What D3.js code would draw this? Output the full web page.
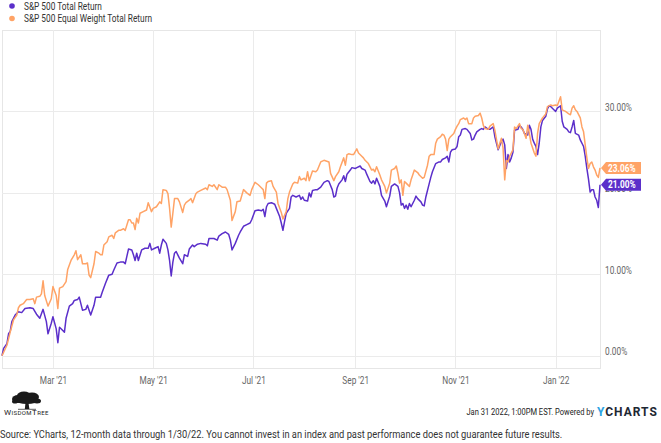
<!DOCTYPE html>
<html>
<head>
<meta charset="utf-8">
<script src="https://cdn.jsdelivr.net/npm/d3@7"></script>
<style>
  html, body { margin: 0; padding: 0; background: #fff; }
  svg { display: block; }
  text { font-family: Roboto, "Liberation Sans", sans-serif; }
</style>
</head>
<body>
<svg id="chart"></svg>
<script>
'use strict';

const seriesNames = ['S&P 500 Total Return', 'S&P 500 Equal Weight Total Return'];
const seriesColors = ['#5b2fca', '#ffa366'];

// total return, %
const sp500 = [
    ['2021-01-29', 0.0], ['2021-01-30', 0.9], ['2021-02-01', 1.5], ['2021-02-02', 2.7], ['2021-02-03', 3.0],
    ['2021-02-04', 4.2], ['2021-02-06', 5.0], ['2021-02-08', 5.4], ['2021-02-10', 5.3], ['2021-02-12', 5.8],
    ['2021-02-15', 5.9], ['2021-02-17', 5.8], ['2021-02-19', 5.1], ['2021-02-21', 4.6], ['2021-02-23', 5.7],
    ['2021-02-25', 4.2], ['2021-02-26', 2.7], ['2021-02-28', 4.0], ['2021-03-01', 4.8], ['2021-03-03', 3.3],
    ['2021-03-04', 1.6], ['2021-03-05', 3.5], ['2021-03-07', 3.1], ['2021-03-08', 2.9], ['2021-03-09', 4.6],
    ['2021-03-11', 6.1], ['2021-03-13', 6.4], ['2021-03-14', 6.8], ['2021-03-16', 6.9], ['2021-03-17', 7.2],
    ['2021-03-19', 5.6], ['2021-03-21', 5.7], ['2021-03-22', 6.2], ['2021-03-23', 5.6], ['2021-03-24', 5.0],
    ['2021-03-26', 6.2], ['2021-03-27', 7.2], ['2021-03-29', 7.2], ['2021-03-30', 7.2], ['2021-03-31', 7.8],
    ['2021-04-02', 8.9], ['2021-04-04', 9.9], ['2021-04-06', 10.0], ['2021-04-07', 10.5], ['2021-04-09', 11.4],
    ['2021-04-11', 11.5], ['2021-04-13', 11.5], ['2021-04-14', 11.3], ['2021-04-15', 12.2], ['2021-04-16', 13.1],
    ['2021-04-18', 13.0], ['2021-04-19', 12.4], ['2021-04-20', 11.7], ['2021-04-21', 12.6], ['2021-04-22', 11.7],
    ['2021-04-24', 13.0], ['2021-04-26', 13.2], ['2021-04-28', 13.2], ['2021-04-29', 13.8], ['2021-04-30', 13.0],
    ['2021-05-02', 13.2], ['2021-05-04', 13.4], ['2021-05-05', 12.6], ['2021-05-06', 13.6], ['2021-05-07', 14.3],
    ['2021-05-09', 13.8], ['2021-05-10', 13.0], ['2021-05-11', 11.7], ['2021-05-12', 9.8], ['2021-05-13', 11.5],
    ['2021-05-14', 12.6], ['2021-05-15', 12.8], ['2021-05-16', 12.4], ['2021-05-17', 12.0], ['2021-05-19', 11.3],
    ['2021-05-20', 12.4], ['2021-05-22', 12.2], ['2021-05-23', 13.1], ['2021-05-25', 13.6], ['2021-05-26', 13.4],
    ['2021-05-28', 13.7], ['2021-05-30', 13.8], ['2021-06-02', 13.7], ['2021-06-03', 13.5], ['2021-06-04', 14.4],
    ['2021-06-07', 14.4], ['2021-06-09', 14.2], ['2021-06-10', 14.7], ['2021-06-12', 15.0], ['2021-06-14', 15.2],
    ['2021-06-16', 14.9], ['2021-06-17', 14.2], ['2021-06-18', 13.0], ['2021-06-20', 13.8], ['2021-06-22', 14.8],
    ['2021-06-23', 15.2], ['2021-06-25', 15.9], ['2021-06-27', 16.1], ['2021-06-29', 16.3], ['2021-06-30', 16.7],
    ['2021-07-02', 17.8], ['2021-07-04', 17.9], ['2021-07-06', 17.8], ['2021-07-07', 18.0], ['2021-07-08', 17.1],
    ['2021-07-09', 18.3], ['2021-07-10', 18.7], ['2021-07-12', 18.8], ['2021-07-14', 18.6], ['2021-07-15', 18.1],
    ['2021-07-17', 17.1], ['2021-07-18', 16.3], ['2021-07-19', 15.4], ['2021-07-20', 16.5], ['2021-07-21', 17.5],
    ['2021-07-23', 18.1], ['2021-07-24', 19.5], ['2021-07-25', 19.7], ['2021-07-27', 19.5], ['2021-07-29', 19.7],
    ['2021-07-30', 19.2], ['2021-07-31', 19.5], ['2021-08-01', 19.1], ['2021-08-03', 19.0], ['2021-08-04', 20.0],
    ['2021-08-05', 19.5], ['2021-08-06', 20.3], ['2021-08-08', 20.4], ['2021-08-09', 20.4], ['2021-08-11', 20.7],
    ['2021-08-13', 21.3], ['2021-08-15', 21.5], ['2021-08-16', 21.4], ['2021-08-18', 20.4], ['2021-08-19', 19.5],
    ['2021-08-20', 19.6], ['2021-08-21', 20.6], ['2021-08-22', 21.1], ['2021-08-24', 21.6], ['2021-08-25', 22.1],
    ['2021-08-26', 21.4], ['2021-08-27', 22.3], ['2021-08-29', 22.8], ['2021-08-30', 23.1], ['2021-09-01', 23.0],
    ['2021-09-02', 23.1], ['2021-09-04', 23.3], ['2021-09-05', 23.0], ['2021-09-07', 22.8], ['2021-09-08', 22.3],
    ['2021-09-10', 21.4], ['2021-09-11', 21.2], ['2021-09-12', 21.5], ['2021-09-13', 21.1], ['2021-09-14', 21.8],
    ['2021-09-16', 20.8], ['2021-09-17', 19.7], ['2021-09-19', 19.0], ['2021-09-20', 18.3], ['2021-09-22', 19.6],
    ['2021-09-23', 20.8], ['2021-09-25', 21.1], ['2021-09-27', 20.8], ['2021-09-28', 20.0], ['2021-09-29', 18.5],
    ['2021-09-30', 18.7], ['2021-10-01', 18.1], ['2021-10-02', 18.5], ['2021-10-03', 18.0], ['2021-10-04', 18.7],
    ['2021-10-05', 18.3], ['2021-10-07', 19.1], ['2021-10-08', 19.6], ['2021-10-09', 19.3], ['2021-10-11', 18.9],
    ['2021-10-12', 18.5], ['2021-10-13', 18.4], ['2021-10-14', 19.5], ['2021-10-16', 21.1], ['2021-10-17', 21.9],
    ['2021-10-18', 22.6], ['2021-10-20', 23.6], ['2021-10-22', 23.8], ['2021-10-23', 23.8], ['2021-10-24', 24.1],
    ['2021-10-26', 24.3], ['2021-10-27', 24.5], ['2021-10-28', 23.8], ['2021-10-29', 25.0], ['2021-10-30', 25.3],
    ['2021-11-01', 25.4], ['2021-11-02', 25.7], ['2021-11-03', 26.9], ['2021-11-04', 27.1], ['2021-11-05', 27.8],
    ['2021-11-07', 27.9], ['2021-11-08', 27.8], ['2021-11-10', 27.3], ['2021-11-11', 26.5], ['2021-11-12', 26.6],
    ['2021-11-13', 27.1], ['2021-11-14', 27.5], ['2021-11-16', 27.8], ['2021-11-17', 27.9], ['2021-11-18', 27.8],
    ['2021-11-19', 28.1], ['2021-11-21', 27.8], ['2021-11-22', 27.8], ['2021-11-24', 28.1], ['2021-11-25', 26.9],
    ['2021-11-27', 25.3], ['2021-11-29', 26.3], ['2021-11-30', 26.6], ['2021-12-01', 25.9], ['2021-12-02', 23.0],
    ['2021-12-03', 24.7], ['2021-12-04', 23.8], ['2021-12-05', 24.3], ['2021-12-06', 25.0], ['2021-12-07', 27.7],
    ['2021-12-09', 27.8], ['2021-12-10', 28.3], ['2021-12-11', 28.1], ['2021-12-12', 27.8], ['2021-12-13', 27.3],
    ['2021-12-15', 27.1], ['2021-12-16', 28.3], ['2021-12-17', 27.8], ['2021-12-18', 26.6], ['2021-12-19', 26.1],
    ['2021-12-20', 25.7], ['2021-12-21', 24.7], ['2021-12-22', 26.1], ['2021-12-23', 28.1], ['2021-12-24', 28.9],
    ['2021-12-26', 29.4], ['2021-12-27', 30.3], ['2021-12-28', 30.7], ['2021-12-29', 30.6], ['2021-12-30', 30.4],
    ['2022-01-01', 30.0], ['2022-01-02', 30.4], ['2022-01-04', 30.7], ['2022-01-05', 28.8], ['2022-01-06', 28.1],
    ['2022-01-08', 27.8], ['2022-01-09', 27.5], ['2022-01-10', 27.4], ['2022-01-11', 28.1], ['2022-01-12', 28.9],
    ['2022-01-13', 27.3], ['2022-01-15', 27.1], ['2022-01-16', 26.5], ['2022-01-18', 25.7], ['2022-01-19', 24.5],
    ['2022-01-20', 23.0], ['2022-01-21', 21.7], ['2022-01-22', 20.1], ['2022-01-23', 20.4], ['2022-01-24', 20.4],
    ['2022-01-25', 19.5], ['2022-01-26', 19.1], ['2022-01-27', 18.2], ['2022-01-28', 21.0]
];

const equalWeight = [
    ['2021-01-29', 0.0], ['2021-02-01', 1.3], ['2021-02-03', 2.9], ['2021-02-05', 4.4], ['2021-02-07', 5.0],
    ['2021-02-08', 5.9], ['2021-02-09', 6.2], ['2021-02-11', 6.4], ['2021-02-13', 6.9], ['2021-02-15', 6.9],
    ['2021-02-17', 7.0], ['2021-02-18', 6.4], ['2021-02-19', 7.2], ['2021-02-21', 7.3], ['2021-02-22', 7.6],
    ['2021-02-23', 9.2], ['2021-02-24', 7.4], ['2021-02-26', 6.1], ['2021-02-28', 7.0], ['2021-03-01', 8.5],
    ['2021-03-03', 7.4], ['2021-03-04', 5.8], ['2021-03-05', 8.3], ['2021-03-07', 8.5], ['2021-03-09', 9.1],
    ['2021-03-10', 10.6], ['2021-03-12', 11.7], ['2021-03-14', 12.4], ['2021-03-15', 12.9], ['2021-03-16', 11.8],
    ['2021-03-18', 12.4], ['2021-03-19', 11.3], ['2021-03-21', 11.3], ['2021-03-22', 11.4], ['2021-03-23', 9.9],
    ['2021-03-24', 9.6], ['2021-03-26', 11.3], ['2021-03-27', 12.8], ['2021-03-29', 12.6], ['2021-03-30', 12.4],
    ['2021-03-31', 12.4], ['2021-04-01', 13.6], ['2021-04-03', 14.0], ['2021-04-04', 14.6], ['2021-04-06', 14.8],
    ['2021-04-07', 14.4], ['2021-04-08', 15.1], ['2021-04-10', 15.4], ['2021-04-11', 15.4], ['2021-04-13', 15.6],
    ['2021-04-14', 15.4], ['2021-04-16', 16.7], ['2021-04-17', 16.7], ['2021-04-18', 16.3], ['2021-04-19', 16.3],
    ['2021-04-20', 15.5], ['2021-04-21', 16.9], ['2021-04-22', 16.3], ['2021-04-23', 17.5], ['2021-04-25', 17.7],
    ['2021-04-27', 17.9], ['2021-04-28', 18.8], ['2021-04-30', 17.7], ['2021-05-01', 18.1], ['2021-05-03', 18.3],
    ['2021-05-05', 18.9], ['2021-05-06', 18.7], ['2021-05-07', 20.4], ['2021-05-09', 20.3], ['2021-05-10', 19.9],
    ['2021-05-11', 18.1], ['2021-05-12', 15.8], ['2021-05-13', 17.5], ['2021-05-14', 19.3], ['2021-05-16', 19.3],
    ['2021-05-17', 18.9], ['2021-05-19', 17.6], ['2021-05-20', 18.5], ['2021-05-21', 18.8], ['2021-05-23', 19.1],
    ['2021-05-24', 19.3], ['2021-05-25', 18.8], ['2021-05-27', 19.9], ['2021-05-28', 20.1], ['2021-05-30', 20.3],
    ['2021-06-02', 20.6], ['2021-06-03', 20.4], ['2021-06-04', 21.0], ['2021-06-06', 20.8], ['2021-06-07', 21.0],
    ['2021-06-09', 20.4], ['2021-06-10', 21.0], ['2021-06-12', 20.7], ['2021-06-14', 20.7], ['2021-06-15', 20.4],
    ['2021-06-17', 19.1], ['2021-06-18', 16.6], ['2021-06-20', 17.7], ['2021-06-21', 18.9], ['2021-06-23', 19.0],
    ['2021-06-25', 20.4], ['2021-06-27', 20.0], ['2021-06-29', 19.7], ['2021-06-30', 20.4], ['2021-07-02', 21.3],
    ['2021-07-04', 21.0], ['2021-07-06', 20.6], ['2021-07-07', 20.4], ['2021-07-08', 19.3], ['2021-07-09', 21.2],
    ['2021-07-10', 21.4], ['2021-07-12', 21.5], ['2021-07-13', 20.8], ['2021-07-15', 20.1], ['2021-07-16', 18.7],
    ['2021-07-18', 17.6], ['2021-07-19', 16.8], ['2021-07-21', 17.7], ['2021-07-22', 19.3], ['2021-07-23', 20.1],
    ['2021-07-25', 21.1], ['2021-07-26', 21.3], ['2021-07-28', 21.2], ['2021-07-29', 22.0], ['2021-07-30', 21.6],
    ['2021-08-01', 21.8], ['2021-08-02', 21.5], ['2021-08-03', 22.6], ['2021-08-04', 21.5], ['2021-08-06', 22.7],
    ['2021-08-08', 22.6], ['2021-08-09', 22.8], ['2021-08-11', 23.8], ['2021-08-13', 24.0], ['2021-08-16', 23.8],
    ['2021-08-17', 22.4], ['2021-08-19', 21.5], ['2021-08-20', 22.0], ['2021-08-22', 22.6], ['2021-08-23', 23.2],
    ['2021-08-25', 24.3], ['2021-08-26', 23.4], ['2021-08-27', 24.7], ['2021-08-28', 24.8], ['2021-08-30', 24.7],
    ['2021-08-31', 24.7], ['2021-09-02', 25.4], ['2021-09-03', 24.9], ['2021-09-05', 24.5], ['2021-09-06', 24.3],
    ['2021-09-07', 24.0], ['2021-09-09', 23.6], ['2021-09-11', 22.8], ['2021-09-12', 22.9], ['2021-09-13', 22.6],
    ['2021-09-14', 23.2], ['2021-09-16', 22.2], ['2021-09-17', 21.6], ['2021-09-19', 20.8], ['2021-09-20', 20.0],
    ['2021-09-22', 21.2], ['2021-09-23', 22.8], ['2021-09-25', 23.0], ['2021-09-26', 23.3], ['2021-09-27', 22.4],
    ['2021-09-28', 21.2], ['2021-09-29', 21.6], ['2021-09-30', 19.7], ['2021-10-01', 21.4], ['2021-10-02', 21.2],
    ['2021-10-04', 20.8], ['2021-10-05', 21.6], ['2021-10-06', 22.2], ['2021-10-07', 22.8], ['2021-10-09', 22.5],
    ['2021-10-10', 22.2], ['2021-10-12', 21.8], ['2021-10-13', 21.9], ['2021-10-15', 23.4], ['2021-10-16', 24.5],
    ['2021-10-17', 24.7], ['2021-10-19', 24.7], ['2021-10-20', 26.1], ['2021-10-21', 26.6], ['2021-10-23', 26.9],
    ['2021-10-24', 27.2], ['2021-10-25', 27.1], ['2021-10-26', 26.6], ['2021-10-27', 25.2], ['2021-10-28', 26.6],
    ['2021-10-29', 26.9], ['2021-10-31', 27.3], ['2021-11-01', 27.8], ['2021-11-02', 28.2], ['2021-11-03', 28.5],
    ['2021-11-04', 29.0], ['2021-11-06', 29.2], ['2021-11-07', 29.0], ['2021-11-08', 29.2], ['2021-11-09', 28.5],
    ['2021-11-11', 28.5], ['2021-11-12', 29.2], ['2021-11-13', 29.4], ['2021-11-15', 29.5], ['2021-11-16', 29.8],
    ['2021-11-17', 29.2], ['2021-11-18', 28.3], ['2021-11-19', 27.9], ['2021-11-21', 27.8], ['2021-11-22', 28.2],
    ['2021-11-24', 28.5], ['2021-11-25', 27.7], ['2021-11-27', 25.4], ['2021-11-28', 26.1], ['2021-11-29', 26.7],
    ['2021-11-30', 25.5], ['2021-12-01', 21.6], ['2021-12-02', 24.0], ['2021-12-03', 23.8], ['2021-12-04', 24.5],
    ['2021-12-06', 25.3], ['2021-12-07', 28.1], ['2021-12-08', 27.9], ['2021-12-10', 28.5], ['2021-12-11', 27.9],
    ['2021-12-12', 27.8], ['2021-12-14', 26.7], ['2021-12-15', 28.3], ['2021-12-16', 27.3], ['2021-12-17', 26.1],
    ['2021-12-18', 25.5], ['2021-12-19', 24.9], ['2021-12-20', 24.5], ['2021-12-21', 27.3], ['2021-12-22', 28.5],
    ['2021-12-24', 29.2], ['2021-12-26', 29.7], ['2021-12-27', 30.6], ['2021-12-29', 30.8], ['2021-12-30', 30.7],
    ['2022-01-01', 30.8], ['2022-01-02', 30.7], ['2022-01-04', 31.8], ['2022-01-05', 30.2], ['2022-01-06', 30.1],
    ['2022-01-07', 30.0], ['2022-01-09', 29.7], ['2022-01-10', 29.6], ['2022-01-11', 30.4], ['2022-01-12', 30.7],
    ['2022-01-13', 30.2], ['2022-01-14', 30.0], ['2022-01-16', 29.2], ['2022-01-17', 28.1], ['2022-01-18', 27.5],
    ['2022-01-19', 25.9], ['2022-01-20', 24.3], ['2022-01-21', 23.0], ['2022-01-22', 23.6], ['2022-01-23', 23.8],
    ['2022-01-24', 23.2], ['2022-01-25', 22.8], ['2022-01-26', 22.2], ['2022-01-27', 21.9], ['2022-01-28', 23.06]
];

const yTicks = [0, 10, 20, 30];
const xTicks = ['2021-03-01', '2021-05-01', '2021-07-01', '2021-09-01', '2021-11-01', '2022-01-01'];
const dateRange = ['2021-01-29', '2022-01-28'];

const footerStamp = 'Jan 31 2022, 1:00PM EST. Powered by';
const sourceNote = 'Source: YCharts, 12-month data through 1/30/22. You cannot invest in an index and past performance does not guarantee future results.';

(function () {
    const width = 661;
    const height = 443;
    const plot = {left: 2, right: 600, top: 30, bottom: 368};
    const narrow = 0.83; // roboto squeezed to look condensed

    const parse = d3.timeParse('%Y-%m-%d');
    const series = [sp500, equalWeight].map(rows => rows.map(r => ({date: parse(r[0]), value: r[1]})));

    const svg = d3.select('#chart')
        .attr('width', width)
        .attr('height', height);

    const x = d3.scaleTime()
        .domain(dateRange.map(parse))
        .range([plot.left, plot.right]);

    const y = d3.scaleLinear()
        .domain([-1.5, 40])
        .range([plot.bottom, plot.top]);

    // frame + grid
    svg.append('rect')
        .attr('x', plot.left + 0.5)
        .attr('y', plot.top + 0.5)
        .attr('width', plot.right - plot.left)
        .attr('height', plot.bottom - plot.top)
        .attr('fill', 'none')
        .attr('stroke', '#e6e6e6');

    svg.append('g')
        .selectAll('line')
        .data(yTicks)
        .join('line')
        .attr('x1', plot.left)
        .attr('x2', plot.right)
        .attr('y1', d => Math.round(y(d)) + 0.5)
        .attr('y2', d => Math.round(y(d)) + 0.5)
        .attr('stroke', '#ebebeb');

    svg.append('g')
        .selectAll('line')
        .data(xTicks.map(parse))
        .join('line')
        .attr('x1', d => Math.round(x(d)) + 0.5)
        .attr('x2', d => Math.round(x(d)) + 0.5)
        .attr('y1', plot.top)
        .attr('y2', plot.bottom)
        .attr('stroke', '#ebebeb');

    // axes
    const xAxis = svg.append('g')
        .attr('transform', `translate(0, ${plot.bottom})`)
        .call(d3.axisBottom(x)
            .tickValues(xTicks.map(parse))
            .tickFormat(d3.timeFormat("%b '%y"))
            .tickSize(0)
            .tickPadding(9));

    xAxis.select('.domain').remove();
    xAxis.selectAll('text')
        .attr('font-family', null)
        .attr('font-size', 10)
        .attr('fill', '#666')
        .attr('transform', `scale(${narrow}, 1)`);

    const yAxis = svg.append('g')
        .attr('transform', `translate(${plot.right}, 0)`)
        .call(d3.axisRight(y)
            .tickValues(yTicks)
            .tickFormat(d => d3.format('.2f')(d) + '%')
            .tickSize(0));

    yAxis.select('.domain').remove();
    yAxis.selectAll('text')
        .attr('font-family', null)
        .attr('font-size', 10)
        .attr('fill', '#666')
        .attr('x', 5 / narrow)
        .attr('dy', '-0.1em')
        .attr('transform', `scale(${narrow}, 1)`);

    // lines
    const line = d3.line()
        .x(d => x(d.date))
        .y(d => y(d.value));

    svg.append('g')
        .selectAll('path')
        .data(series)
        .join('path')
        .attr('d', line)
        .attr('fill', 'none')
        .attr('stroke', (d, i) => seriesColors[i])
        .attr('stroke-width', 1.5)
        .attr('stroke-linejoin', 'round');

    // end-value flags
    const flags = svg.append('g')
        .selectAll('g')
        .data(series)
        .join('g')
        .attr('transform', d => `translate(${plot.right + 1}, ${y(d[d.length - 1].value)})`);

    flags.append('path')
        .attr('d', 'M0,0 L5,-6 L40,-6 L40,6 L5,6 Z')
        .attr('fill', (d, i) => seriesColors[i]);

    flags.append('text')
        .attr('transform', `translate(7, 3.6) scale(${narrow}, 1)`)
        .attr('font-size', 10)
        .attr('font-weight', 'bold')
        .attr('fill', '#fff')
        .text(d => d3.format('.2f')(d[d.length - 1].value) + '%');

    // legend
    const legend = svg.append('g')
        .selectAll('g')
        .data(seriesNames)
        .join('g')
        .attr('transform', (d, i) => `translate(0, ${6 + i * 12.5})`);

    legend.append('circle')
        .attr('cx', 12)
        .attr('cy', 0)
        .attr('r', 2.8)
        .attr('fill', (d, i) => seriesColors[i]);

    legend.append('text')
        .attr('transform', `translate(24, 3.6) scale(${narrow}, 1)`)
        .attr('font-size', 10)
        .attr('fill', '#333')
        .text(d => d);

    // footer: WisdomTree mark
    const logo = svg.append('g')
        .attr('transform', 'translate(27, 400)');

    [[-9, -1, 6, 4], [-3, -4.5, 7, 4], [5, -3, 7, 4.5], [0, 0.5, 11, 3.5], [10, 1, 4, 2.5], [-12, 1.5, 3, 2]].forEach(e => {
        logo.append('ellipse')
            .attr('cx', e[0])
            .attr('cy', e[1])
            .attr('rx', e[2])
            .attr('ry', e[3])
            .attr('fill', '#1a1a1a');
    });

    logo.append('path')
        .attr('d', 'M-1.5,3 L-2.2,9 L2.4,9 L1.5,3 Z')
        .attr('fill', '#1a1a1a');

    logo.append('line')
        .attr('x1', -9)
        .attr('x2', 9)
        .attr('y1', 9.3)
        .attr('y2', 9.3)
        .attr('stroke', '#1a1a1a')
        .attr('stroke-width', 0.7);

    const wordmark = svg.append('text')
        .attr('x', 4)
        .attr('y', 415)
        .attr('font-family', '"Liberation Serif", serif')
        .attr('fill', '#222')
        .attr('letter-spacing', 0.4);

    [['W', 8], ['ISDOM', 6], ['T', 8], ['REE', 6]].forEach(p => {
        wordmark.append('tspan')
            .attr('font-size', p[1])
            .text(p[0]);
    });

    svg.append('text')
        .attr('transform', 'translate(594, 415) scale(0.8, 1)')
        .attr('text-anchor', 'end')
        .attr('font-size', 9.4)
        .attr('fill', '#222')
        .text(footerStamp);

    const brand = svg.append('text')
        .attr('x', 597)
        .attr('y', 416)
        .attr('font-family', '"Liberation Sans", Arial, sans-serif')
        .attr('font-size', 12)
        .attr('font-weight', 'bold')
        .attr('letter-spacing', 1);

    brand.append('tspan')
        .attr('fill', '#2aa3e3')
        .text('Y');
    brand.append('tspan')
        .attr('fill', '#1d2733')
        .text('CHARTS');

    const source = svg.append('text')
        .attr('font-size', 11.5)
        .attr('fill', '#333')
        .text(sourceNote);

    const fit = 563 / source.node().getComputedTextLength();
    source.attr('transform', `translate(0, 438) scale(${fit}, 1)`);
})();
</script>
</body>
</html>
